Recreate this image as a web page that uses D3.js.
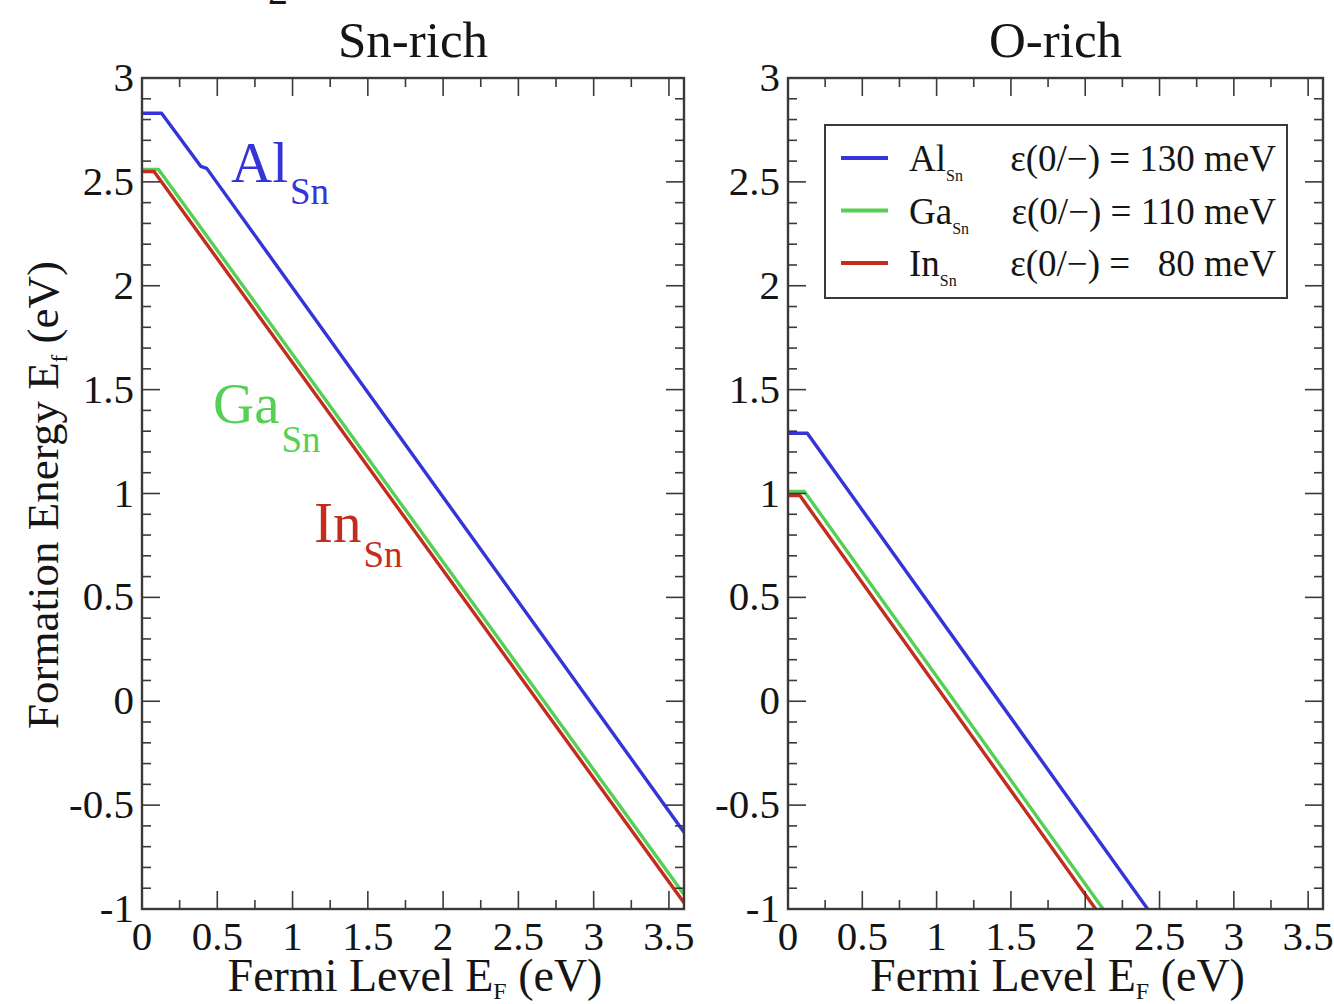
<!DOCTYPE html>
<html>
<head>
<meta charset="utf-8">
<script src="https://cdn.jsdelivr.net/npm/d3@7"></script>
<style>
  html, body { margin: 0; padding: 0; background: #ffffff; }
  svg { display: block; font-family: "Liberation Serif", "Times New Roman", Times, serif; }
</style>
</head>
<body>
<svg id="chart" width="1334" height="1004"></svg>
<script>
// Formation energy of group-III substitutionals on the Sn site vs Fermi level
const panelTitles = ["Sn-rich", "O-rich"];
const xTicks = [0, 0.5, 1, 1.5, 2, 2.5, 3, 3.5];
const xTickLabels = ["0", "0.5", "1", "1.5", "2", "2.5", "3", "3.5"];
const yTicks = [-1, -0.5, 0, 0.5, 1, 1.5, 2, 2.5, 3];
const yTickLabels = ["-1", "-0.5", "0", "0.5", "1", "1.5", "2", "2.5", "3"];
const defects = ["Al", "Ga", "In"];
const transitionLevels = ["130", "110", "80"]; // ε(0/−) in meV

// [Fermi level (eV), formation energy (eV)]
const snRichAl = [[0, 2.83], [0.13, 2.83], [0.39, 2.575], [0.43, 2.565], [3.6, -0.63]];
const snRichGa = [[0, 2.56], [0.11, 2.56], [3.6, -0.93]];
const snRichIn = [[0, 2.55], [0.08, 2.55], [3.6, -0.97]];
const oRichAl = [[0, 1.29], [0.13, 1.29], [2.42, -1.0]];
const oRichGa = [[0, 1.01], [0.11, 1.01], [2.12, -1.0]];
const oRichIn = [[0, 0.99], [0.08, 0.99], [2.07, -1.0]];

const colors = { Al: "#3434d8", Ga: "#55d055", In: "#c42c1e" };

const svg = d3.select("#chart");
const frameColor = "#3a3a3a";
const textColor = "#151515";

const panels = [
  { title: panelTitles[0], left: 142, right: 684, series: { Al: snRichAl, Ga: snRichGa, In: snRichIn } },
  { title: panelTitles[1], left: 788, right: 1323, series: { Al: oRichAl, Ga: oRichGa, In: oRichIn } }
];
const plotTop = 78, plotBottom = 909;

panels.forEach((p, pi) => {
  const x = d3.scaleLinear().domain([0, 3.6]).range([p.left, p.right]);
  const y = d3.scaleLinear().domain([-1, 3]).range([plotBottom, plotTop]);
  const g = svg.append("g");

  // clip so lines stay inside the frame
  const clipId = "clip" + pi;
  svg.append("defs").append("clipPath").attr("id", clipId)
    .append("rect").attr("x", p.left).attr("y", plotTop)
    .attr("width", p.right - p.left).attr("height", plotBottom - plotTop);

  // series lines
  const line = d3.line().x(d => x(d[0])).y(d => y(d[1]));
  const lg = g.append("g").attr("clip-path", `url(#${clipId})`);
  ["Al", "Ga", "In"].forEach(k => {
    lg.append("path").datum(p.series[k])
      .attr("d", line).attr("fill", "none")
      .attr("stroke", colors[k]).attr("stroke-width", 3.4)
      .attr("stroke-linejoin", "round");
  });

  // inward ticks on all four sides
  const xMinor = d3.range(0, 3.6001, 0.25);
  const yMinor = d3.range(-1, 3.0001, 0.1);
  const tg = g.append("g").attr("stroke", frameColor).attr("stroke-width", 1.6);
  xMinor.forEach(v => {
    const major = Math.abs(v * 2 - Math.round(v * 2)) < 1e-6;
    const len = major ? 18 : 9;
    tg.append("line").attr("x1", x(v)).attr("x2", x(v)).attr("y1", plotBottom).attr("y2", plotBottom - len);
    tg.append("line").attr("x1", x(v)).attr("x2", x(v)).attr("y1", plotTop).attr("y2", plotTop + len);
  });
  yMinor.forEach(v => {
    const major = Math.abs(v * 2 - Math.round(v * 2)) < 1e-6;
    const len = major ? 18 : 9;
    tg.append("line").attr("x1", p.left).attr("x2", p.left + len).attr("y1", y(v)).attr("y2", y(v));
    tg.append("line").attr("x1", p.right).attr("x2", p.right - len).attr("y1", y(v)).attr("y2", y(v));
  });

  // frame
  g.append("rect").attr("x", p.left).attr("y", plotTop)
    .attr("width", p.right - p.left).attr("height", plotBottom - plotTop)
    .attr("fill", "none").attr("stroke", frameColor).attr("stroke-width", 2.4);

  // tick labels
  xTicks.forEach((v, i) => {
    g.append("text").attr("x", x(v)).attr("y", 950)
      .attr("text-anchor", "middle").attr("font-size", 41).attr("fill", textColor)
      .text(xTickLabels[i]);
  });
  yTicks.forEach((v, i) => {
    g.append("text").attr("x", p.left - 8).attr("y", y(v) + 13)
      .attr("text-anchor", "end").attr("font-size", 41).attr("fill", textColor)
      .text(yTickLabels[i]);
  });

  // panel title
  g.append("text").attr("x", (p.left + p.right) / 2).attr("y", 57)
    .attr("text-anchor", "middle").attr("font-size", 51).attr("fill", textColor)
    .text(p.title);

  // x axis title
  const xt = g.append("text").attr("x", (p.left + p.right) / 2 + 2).attr("y", 991)
    .attr("text-anchor", "middle").attr("font-size", 46).attr("fill", textColor);
  xt.append("tspan").text("Fermi Level E");
  xt.append("tspan").attr("font-size", 24).attr("dy", 8).text("F");
  xt.append("tspan").attr("dy", -8).text(" (eV)");
});

// y axis title
const yt = svg.append("text")
  .attr("transform", "translate(58,495) rotate(-90)")
  .attr("text-anchor", "middle").attr("font-size", 45).attr("fill", textColor);
yt.append("tspan").text("Formation Energy E");
yt.append("tspan").attr("font-size", 23).attr("dy", 9).text("f");
yt.append("tspan").attr("dy", -9).text(" (eV)");

// fragment of a heading cut off at the top edge
svg.append("text").attr("x", 268).attr("y", 4).attr("font-size", 40)
  .attr("fill", textColor).text("2");

// in-plot labels on the Sn-rich panel
const inlineLabels = [
  { k: "Al", x: 231, y: 182, subY: 204 },
  { k: "Ga", x: 213, y: 423, subY: 452 },
  { k: "In", x: 314, y: 542, subY: 567 }
];
inlineLabels.forEach(d => {
  const t = svg.append("text").attr("x", d.x).attr("y", d.y)
    .attr("font-size", 57).attr("fill", colors[d.k]);
  t.append("tspan").text(d.k);
  t.append("tspan").attr("font-size", 37).attr("y", d.subY).attr("dx", 2).text("Sn");
});

// legend on the O-rich panel
const lgd = svg.append("g");
lgd.append("rect").attr("x", 825).attr("y", 125).attr("width", 462).attr("height", 173)
  .attr("fill", "#fff").attr("stroke", frameColor).attr("stroke-width", 2);
defects.forEach((k, i) => {
  const cy = 158 + i * 52.5;
  lgd.append("line").attr("x1", 841).attr("x2", 888).attr("y1", cy).attr("y2", cy)
    .attr("stroke", colors[k]).attr("stroke-width", 4);
  const t = lgd.append("text").attr("x", 909).attr("y", cy + 13)
    .attr("font-size", 37).attr("fill", textColor);
  t.append("tspan").text(k);
  t.append("tspan").attr("font-size", 16).attr("dy", 10).text("Sn");
  const t2 = lgd.append("text").attr("x", 1276).attr("y", cy + 13)
    .attr("text-anchor", "end").attr("font-size", 37).attr("fill", textColor)
    .attr("xml:space", "preserve");
  t2.text("ε(0/−) = " + (transitionLevels[i].length < 3 ? "\u2007" : "") + transitionLevels[i] + " meV");
});
</script>
</body>
</html>
